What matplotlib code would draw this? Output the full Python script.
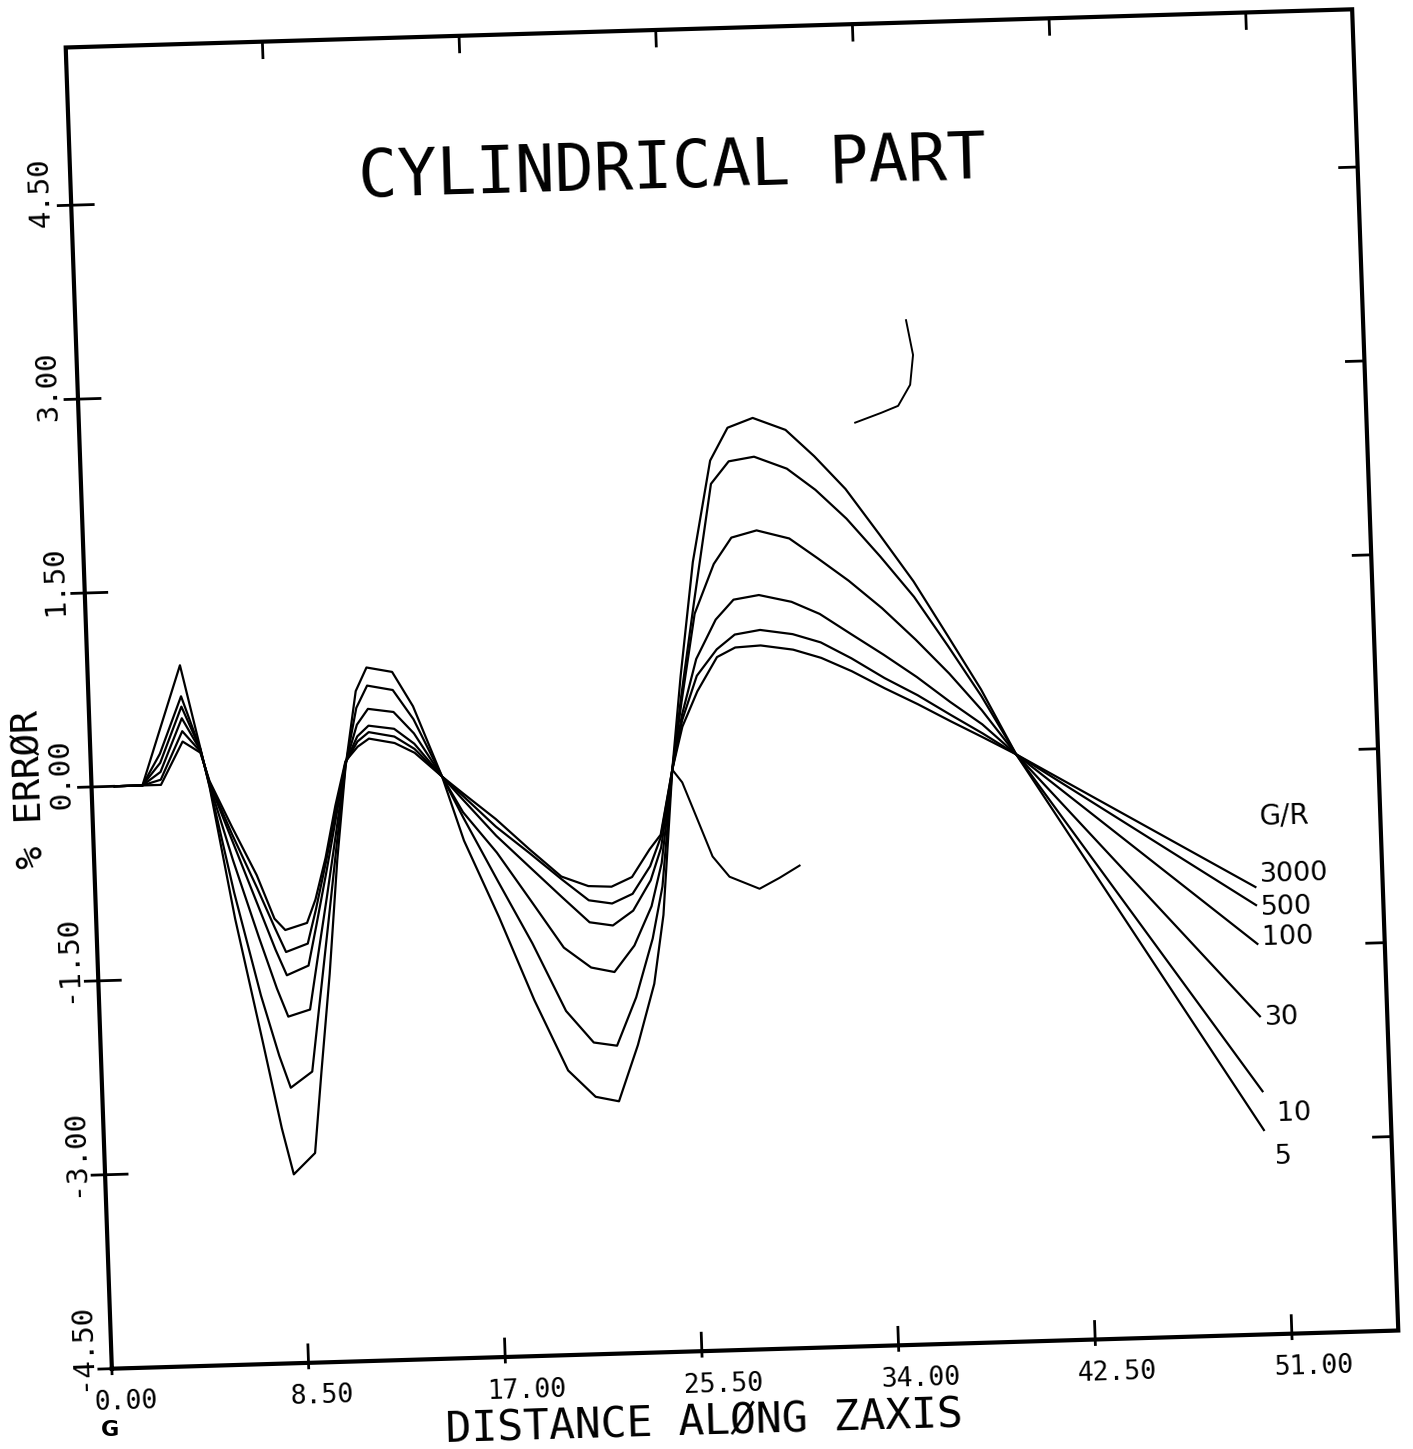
import matplotlib.pyplot as plt
from matplotlib.transforms import Affine2D
import numpy as np

# distance along z axis, shared by every G/R curve
z = [1.0, 2.2, 3.0, 4.0, 4.75, 5.1, 6.0, 7.0, 7.7, 8.15, 9.1, 9.5, 10.0, 10.5, 11.0,
     11.55, 12.05, 13.15, 14.0, 15.15, 16.0, 17.4, 18.8, 20.15, 21.3, 22.3, 23.2,
     24.0, 24.5, 25.1, 25.6, 26.3, 27.2, 28.0, 29.1, 30.5, 31.7, 33.0, 34.4, 35.8,
     37.2, 38.55, 39.97, 50.1]

# percent error for each G/R ratio
err_5 = [0, 0, 0.41, 0.92, 0.28, -0.03, -1.05, -2.0, -2.68, -3.04, -2.88, -2.25, -1.5,
         -0.62, 0.10, 0.68, 0.86, 0.82, 0.55, 0.0, -0.50, -1.10, -1.75, -2.30, -2.51,
         -2.55, -2.12, -1.65, -1.12, 0.0, 0.72, 1.60, 2.38, 2.63, 2.70, 2.60, 2.39, 2.13,
         1.77, 1.40, 0.97, 0.55, 0.04, -2.92]
err_10 = [0, 0, 0.24, 0.68, 0.27, -0.02, -0.85, -1.65, -2.12, -2.37, -2.25, -1.75, -1.13,
          -0.50, 0.11, 0.55, 0.72, 0.68, 0.45, 0.0, -0.32, -0.82, -1.31, -1.84, -2.09,
          -2.12, -1.75, -1.30, -0.90, 0.0, 0.57, 1.30, 2.20, 2.37, 2.40, 2.30, 2.13, 1.90,
          1.60, 1.28, 0.89, 0.50, 0.04, -2.62]
err_30 = [0, 0, 0.17, 0.60, 0.27, -0.01, -0.60, -1.20, -1.60, -1.82, -1.77, -1.38, -0.90,
          -0.40, 0.12, 0.42, 0.54, 0.51, 0.34, 0.0, -0.28, -0.60, -0.98, -1.35, -1.51,
          -1.55, -1.35, -1.05, -0.72, 0.0, 0.52, 1.20, 1.58, 1.78, 1.83, 1.76, 1.60, 1.42,
          1.20, 0.95, 0.68, 0.39, 0.04, -2.04]
err_100 = [0, 0, 0.10, 0.51, 0.26, 0.0, -0.45, -0.95, -1.30, -1.50, -1.43, -1.12, -0.72,
           -0.30, 0.13, 0.33, 0.41, 0.38, 0.26, 0.0, -0.18, -0.47, -0.72, -0.96, -1.16,
           -1.19, -1.08, -0.85, -0.60, 0.0, 0.42, 0.85, 1.15, 1.30, 1.33, 1.27, 1.17, 1.01,
           0.84, 0.66, 0.46, 0.28, 0.04, -1.48]
err_500 = [0, 0, 0.04, 0.41, 0.25, 0.01, -0.40, -0.82, -1.13, -1.32, -1.26, -1.00, -0.64,
           -0.25, 0.13, 0.29, 0.36, 0.32, 0.22, 0.0, -0.15, -0.40, -0.61, -0.82, -0.99,
           -1.02, -0.95, -0.74, -0.52, 0.0, 0.38, 0.72, 0.92, 1.03, 1.06, 1.02, 0.95, 0.82,
           0.66, 0.52, 0.36, 0.21, 0.04, -1.18]
err_3000 = [0, 0, 0.0, 0.33, 0.24, 0.02, -0.34, -0.72, -1.06, -1.15, -1.10, -0.92, -0.60,
            -0.20, 0.14, 0.25, 0.31, 0.27, 0.19, 0.0, -0.13, -0.34, -0.58, -0.80, -0.88,
            -0.89, -0.82, -0.61, -0.50, 0.0, 0.33, 0.60, 0.86, 0.93, 0.94, 0.90, 0.83, 0.72,
            0.58, 0.45, 0.31, 0.18, 0.04, -1.04]

gr_labels = ["3000", "500", "100", "30", "10", "5"]
curves = [err_3000, err_500, err_100, err_30, err_10, err_5]

# stray pen strokes left on the sheet
pen_low_x = [25.1, 25.51, 26.07, 26.71, 27.41, 28.69, 29.57, 30.45]
pen_low_y = [0.0, -0.10, -0.37, -0.68, -0.84, -0.94, -0.86, -0.77]
pen_high_x = [33.52, 34.66, 35.4, 35.95, 36.12, 35.87]
pen_high_y = [2.64, 2.71, 2.76, 2.92, 3.15, 3.42]

x_ticks = [0, 8.5, 17, 25.5, 34, 42.5, 51]
y_ticks = [-4.5, -3.0, -1.5, 0.0, 1.5, 3.0, 4.5]
x0, x1 = 0.0, 55.6
y0, y1 = -4.5, 5.72

W, H = 1413, 1449
fig = plt.figure(figsize=(W / 100, H / 100), dpi=100)
fig.patch.set_facecolor("white")
ax_l, ax_b, ax_w, ax_h = 88.5, 99.0, 1287.0, 1322.0
ax = fig.add_axes([ax_l / W, ax_b / H, ax_w / W, ax_h / H])
ax.axis("off")

# sheet is skewed a little on the plotter bed
a = np.radians(1.7)
b = np.radians(2.0)
cx, cy = 732.0, 760.0
skew = (Affine2D().translate(-cx, -cy)
        + Affine2D(np.array([[np.cos(a), -np.sin(b), 0.0],
                             [np.sin(a), np.cos(b), 0.0],
                             [0.0, 0.0, 1.0]]))
        + Affine2D().translate(cx, cy))
T = ax.transData + skew


def shifted(dx, dy):
    return ax.transData + Affine2D().translate(dx, dy) + skew


mono = "DejaVu Sans Mono"
ink = "black"
rot_h = np.degrees(a)
rot_v = 90 + np.degrees(b)

for err in curves:
    ax.plot(z, err, color=ink, lw=1.6, transform=T, clip_on=False)

ax.plot(pen_low_x, pen_low_y, color=ink, lw=1.5, transform=T, clip_on=False)
ax.plot(pen_high_x, pen_high_y, color=ink, lw=1.4, transform=T, clip_on=False)

# frame
ax.plot([x0, x1, x1, x0, x0], [y0, y0, y1, y1, y0], color=ink, lw=3.0,
        transform=T, clip_on=False, solid_joinstyle="miter")

px_x = ax_w / (x1 - x0)
px_y = ax_h / (y1 - y0)
for xt in x_ticks:
    ax.plot([xt, xt], [y0 - 5 / px_y, y0 + 18 / px_y], color=ink, lw=2.0,
            transform=T, clip_on=False)
    ax.plot([xt, xt], [y1 - 16 / px_y, y1], color=ink, lw=2.0,
            transform=T, clip_on=False)
    ax.text(xt, y0, f"{xt:.2f}", transform=shifted(-19, -21), ha="left", va="top",
            rotation=rot_h, rotation_mode="anchor", fontsize=19, family=mono)
for yt in y_ticks:
    ax.plot([x0 - 13 / px_x, x0 + 22 / px_x], [yt, yt], color=ink, lw=2.0,
            transform=T, clip_on=False)
    ax.plot([x1 - 18 / px_x, x1], [yt, yt], color=ink, lw=2.0,
            transform=T, clip_on=False)
    ax.text(x0, yt, f"{yt:.2f}", transform=shifted(-30, -21), ha="left", va="center",
            rotation=rot_v, rotation_mode="anchor", fontsize=21, family=mono)

ax.text(x0, 0.0, "% ERRØR", transform=shifted(-62, 0), ha="center", va="center",
        rotation=rot_v, rotation_mode="anchor", fontsize=27, family=mono)
ax.text(25.5, y0, "DISTANCE ALØNG ZAXIS", transform=shifted(0, -83), ha="center",
        va="baseline", rotation=rot_h, rotation_mode="anchor", fontsize=31, family=mono)
ax.text(26.0, 4.5, "CYLINDRICAL PART", transform=T, ha="center", va="baseline",
        rotation=rot_h, rotation_mode="anchor", fontsize=47, family=mono)

# curve labels at the line ends
label_dx = [5, 5, 5, 5, 13, 10]
label_dy = [12, -3, 6, -2, -23, -27]
for lab, err, dx, dy in zip(gr_labels, curves, label_dx, label_dy):
    ax.text(z[-1], err[-1], lab, transform=shifted(dx, dy), ha="left", va="center",
            rotation=rot_h, rotation_mode="anchor", fontsize=19.5, family="DejaVu Sans")
ax.text(z[-1], err_3000[-1], "G/R", transform=shifted(6, 70), ha="left", va="center",
        rotation=rot_h, rotation_mode="anchor", fontsize=20, family="DejaVu Sans")

fig.text(110 / W, 1 - 1430 / H, "G", fontsize=16, fontweight="bold",
         ha="center", va="center")

ax.set_xlim(x0, x1)
ax.set_ylim(y0, y1)
fig.savefig("out.png", dpi=100, facecolor="white")
